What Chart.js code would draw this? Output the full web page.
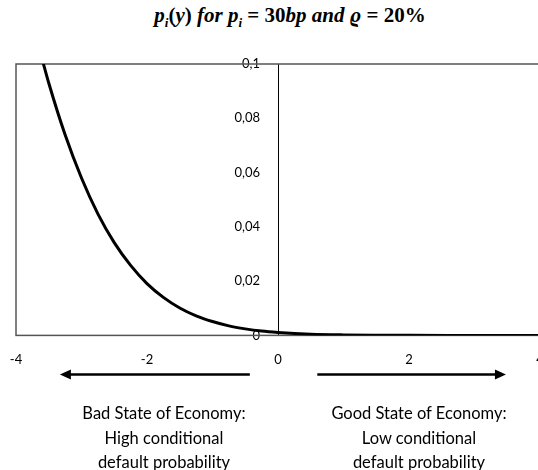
<!DOCTYPE html>
<html lang="en">
<head>
    <meta charset="UTF-8">
    <title>Conditional default probability</title>
    <script src="https://cdn.jsdelivr.net/npm/chart.js"></script>
    <style>
        body {
            margin: 0;
            width: 538px;
            height: 470px;
            overflow: hidden;
            position: relative;
            background: #fff;
        }
        #chart {
            position: absolute;
            left: 0;
            top: 0;
        }
        #title {
            position: absolute;
            left: 140px;
            top: 3px;
            width: 300px;
            text-align: center;
            font-family: "Liberation Serif", serif;
            font-size: 21px;
            font-weight: bold;
            white-space: nowrap;
        }
        #title sub {
            font-size: 13px;
        }
        .state {
            position: absolute;
            top: 401px;
            width: 220px;
            text-align: center;
            font-family: Lato, sans-serif;
            font-size: 16.5px;
            line-height: 24.5px;
            color: #000;
        }
    </style>
</head>
<body>
    <div id="title"><i>p</i><sub><i>i</i></sub>(<i>y</i>) <i>for p</i><sub><i>i</i></sub> = 30<i>bp and ϱ</i> = 20%</div>
    <canvas id="chart" width="560" height="470"></canvas>
    <div class="state" style="left: 54px;">Bad State of Economy:<br>High conditional<br>default probability</div>
    <div class="state" style="left: 309px;">Good State of Economy:<br>Low conditional<br>default probability</div>

    <script>
        // systematic factor y and conditional PD p_i(y)
        var factorValues = [-3.6, -3.5, -3.25, -3, -2.75, -2.5, -2.25, -2, -1.75, -1.5, -1.25, -1, -0.75, -0.5, -0.25, 0, 0.5, 1, 1.5, 2, 3, 4];
        var pdValues = [0.1017, 0.093, 0.0739, 0.058, 0.0448, 0.0342, 0.0258, 0.0191, 0.014, 0.0101, 0.0072, 0.0051, 0.0035, 0.0024, 0.0016, 0.0011, 0.00045, 0.00018, 0.00007, 0.00002, 0.000002, 0];
        var xTickValues = [-4, -2, 0, 2, 4];
        var yTickValues = [0, 0.02, 0.04, 0.06, 0.08, 0.1];

        // arrows under the x axis: [from, to] in factor units
        var badArrow = [-0.43, -3.33];
        var goodArrow = [0.6, 3.48];

        var points = factorValues.map(function (v, i) {
            return { x: v, y: pdValues[i] };
        });

        function commaLabel(v) {
            return v === 0 ? '0' : String(+v.toFixed(2)).replace('.', ',');
        }

        // frame round the plot area
        var framePlugin = {
            id: 'frame',
            beforeDatasetsDraw: function (chart) {
                var a = chart.chartArea;
                var ctx = chart.ctx;
                ctx.save();
                ctx.strokeStyle = '#555';
                ctx.lineWidth = 1.5;
                ctx.strokeRect(a.left, a.top, a.right - a.left, a.bottom - a.top);
                ctx.restore();
            }
        };

        // move the value axis so it crosses the x axis at 0;
        // keep some room on its left, the labels are clipped to the scale box
        var crossPlugin = {
            id: 'cross',
            afterLayout: function (chart) {
                var px = chart.scales.x.getPixelForValue(0);
                chart.scales.y.left = px - 80;
                chart.scales.y.right = px;
            }
        };

        function drawArrow(ctx, x1, x2, y) {
            var dir = x2 > x1 ? 1 : -1;
            ctx.beginPath();
            ctx.moveTo(x1, y);
            ctx.lineTo(x2 - dir * 8, y);
            ctx.stroke();
            ctx.beginPath();
            ctx.moveTo(x2, y);
            ctx.lineTo(x2 - dir * 11, y - 5);
            ctx.lineTo(x2 - dir * 11, y + 5);
            ctx.closePath();
            ctx.fill();
        }

        var arrowPlugin = {
            id: 'arrows',
            afterDraw: function (chart) {
                var xs = chart.scales.x;
                var y = chart.chartArea.bottom + 39;
                var ctx = chart.ctx;
                ctx.save();
                ctx.strokeStyle = '#000';
                ctx.fillStyle = '#000';
                ctx.lineWidth = 2.5;
                drawArrow(ctx, xs.getPixelForValue(badArrow[0]), xs.getPixelForValue(badArrow[1]), y);
                drawArrow(ctx, xs.getPixelForValue(goodArrow[0]), xs.getPixelForValue(goodArrow[1]), y);
                ctx.restore();
            }
        };

        var ctx = document.getElementById('chart').getContext('2d');
        var chart = new Chart(ctx, {
            type: 'line',
            data: {
                datasets: [{
                    data: points,
                    borderColor: '#000',
                    borderWidth: 3,
                    pointRadius: 0,
                    fill: false,
                    cubicInterpolationMode: 'monotone'
                }]
            },
            options: {
                responsive: false,
                animation: false,
                layout: {
                    padding: { left: 16, top: 64, right: 20, bottom: 85 }
                },
                plugins: {
                    legend: { display: false },
                    tooltip: { enabled: false }
                },
                scales: {
                    x: {
                        type: 'linear',
                        min: -4,
                        max: 4,
                        afterBuildTicks: function (scale) {
                            scale.ticks = xTickValues.map(function (v) { return { value: v }; });
                        },
                        // labels at the ends may hang over the plot edges
                        afterFit: function (scale) {
                            scale.paddingLeft = 0;
                            scale.paddingRight = 0;
                        },
                        grid: { display: false, drawTicks: false },
                        border: { display: false },
                        ticks: {
                            padding: 17,
                            color: '#000',
                            font: { family: 'Lato', size: 13 },
                            maxRotation: 0,
                            callback: function (v) { return String(v); }
                        }
                    },
                    y: {
                        type: 'linear',
                        min: 0,
                        max: 0.1,
                        position: 'left',
                        afterFit: function (scale) {
                            scale.width = 0;
                        },
                        afterBuildTicks: function (scale) {
                            scale.ticks = yTickValues.map(function (v) { return { value: v }; });
                        },
                        grid: { display: false, drawTicks: false },
                        border: { display: true, color: '#000', width: 1 },
                        ticks: {
                            padding: 18,
                            color: '#000',
                            font: { family: 'Lato', size: 13 },
                            callback: commaLabel
                        }
                    }
                }
            },
            plugins: [crossPlugin, framePlugin, arrowPlugin]
        });
    </script>
</body>
</html>
